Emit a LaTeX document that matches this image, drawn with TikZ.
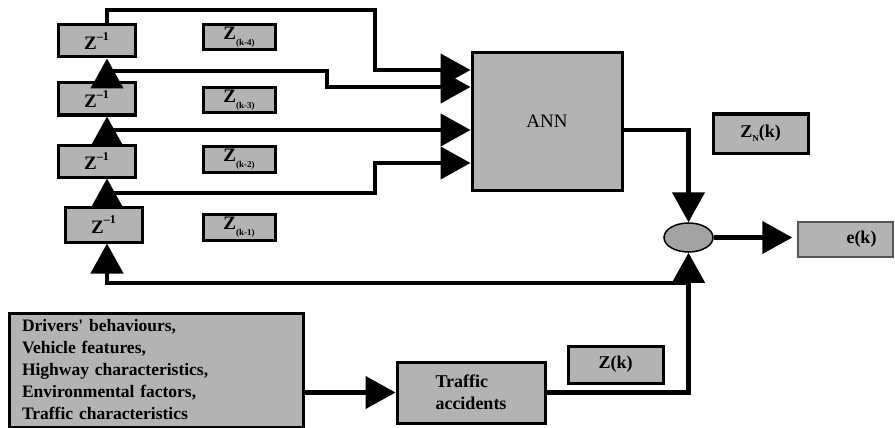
\documentclass[tikz,border=0pt]{standalone}
\usepackage{fontspec}
\setmainfont{Liberation Serif}
\newfontfamily\tnr{Liberation Serif}
\usetikzlibrary{arrows.meta,shapes.geometric}
\definecolor{boxgray}{HTML}{B3B3B3}
\definecolor{sumgray}{HTML}{A3A3A3}
\definecolor{edgegray}{HTML}{555555}
\newcommand\zinv{Z\raisebox{0.5em}{\fontsize{12}{12}\selectfont\bfseries –1}}
\newcommand\zsub[1]{Z\raisebox{-0.3em}{\fontsize{9}{9}\selectfont\bfseries (#1)}}
\begin{document}
\begin{tikzpicture}[x=1pt,y=-1pt,
  box/.style={draw=black, line width=3pt, fill=boxgray, inner sep=0pt,
    font=\tnr\fontsize{18}{22}\selectfont\bfseries},
  delay/.style={box, minimum width=77pt, minimum height=32pt, font=\tnr\fontsize{19}{19}\selectfont\bfseries},
  lbl/.style={box, minimum width=72pt, minimum height=25pt, font=\tnr\fontsize{19}{19}\selectfont\bfseries},
  conn/.style={line width=4.5pt},
  arr/.style={conn, -{Triangle[length=30pt,width=32pt]}},
]
\useasboundingbox (0,0) rectangle (895,428);

% delay boxes
\node[delay] (d1) at (96.5,41) {\zinv};
\node[delay] (d2) at (96.5,99) {\zinv};
\node[delay] (d3) at (96.5,161) {\zinv};
\node[delay, minimum height=35pt] (d4) at (103.5,224.5) {\zinv};

% labels
\node[lbl] (l4) at (239,37.5) {\zsub{k-4}};
\node[lbl] (l3) at (239,100.5) {\zsub{k-3}};
\node[lbl, minimum height=26pt] (l2) at (239,159) {\zsub{k-2}};
\node[lbl, minimum height=26pt] (l1) at (239,227) {\zsub{k-1}};

% ANN
\node[box, minimum width=150pt, minimum height=137pt, font=\tnr\fontsize{19}{19}\selectfont] (ann) at (547,121.5) {ANN};

% output labels
\node[box, minimum width=95pt, minimum height=39pt] (zn) at (760.5,133.5)
  {Z\raisebox{-0.25em}{\fontsize{9}{9}\selectfont\bfseries N}(k)};
\node[draw=black, line width=1.5pt, fill=sumgray, ellipse, minimum width=49pt, minimum height=29pt, inner sep=0pt] (sum) at (688.5,237.5) {};
\node[box, draw=edgegray, line width=1.5pt, minimum width=95pt, minimum height=35pt] (ek) at (845.5,239.5) {\hspace*{32pt}e(k)};
\node[box, minimum width=95pt, minimum height=37pt] (zk) at (615.5,364.5) {Z(k)};
\node[box, minimum width=148pt, minimum height=61pt, align=left] (ta) at (471,392.5) {Traffic\\accidents};
\node[box, minimum width=294pt, minimum height=114pt, text width=268pt, inner xsep=13pt, align=left,
  font=\tnr\fontsize{17.5}{22}\selectfont\bfseries] (inp) at (156,370)
  {Drivers\textquotesingle\ behaviours,\\Vehicle features,\\Highway characteristics,\\Environmental factors,\\Traffic characteristics};

% tap points
\coordinate (j2) at (107,71);
\coordinate (j3) at (107,130);
\coordinate (j4) at (107,193);
\coordinate (fb) at (688.5,283);

% delay chain
\draw[arr] ([xshift=3.5pt]d4.north) -- ([xshift=10.5pt]d3.south);
\draw[arr] ([xshift=10.5pt]d3.north) -- ([xshift=10.5pt]d2.south);
\draw[arr] ([xshift=10.5pt]d2.north) -- ([xshift=10.5pt]d1.south);

% inputs to ANN
\draw[arr] ([xshift=10.5pt]d1.north) |- (375,10) |- (ann.west |- 0,70);
\draw[arr] (j2) -| (327,87) -- (ann.west |- 0,87);
\draw[arr] (j3) -- (ann.west |- j3);
\draw[arr] (j4) -| (375,163) -- (ann.west |- 0,163);

% ANN output to sum
\draw[arr] (ann.east |- 0,130) -| (sum.north);
\draw[arr, shorten >=5pt] (sum.east) -- (ek.west |- sum.east);

% measured path
\draw[arr] (inp.east |- ta.west) -- (ta.west);
\draw[arr] (ta.east) -| (sum.south);
\draw[arr] (fb) -| ([xshift=3.5pt]d4.south);
\end{tikzpicture}
\end{document}
